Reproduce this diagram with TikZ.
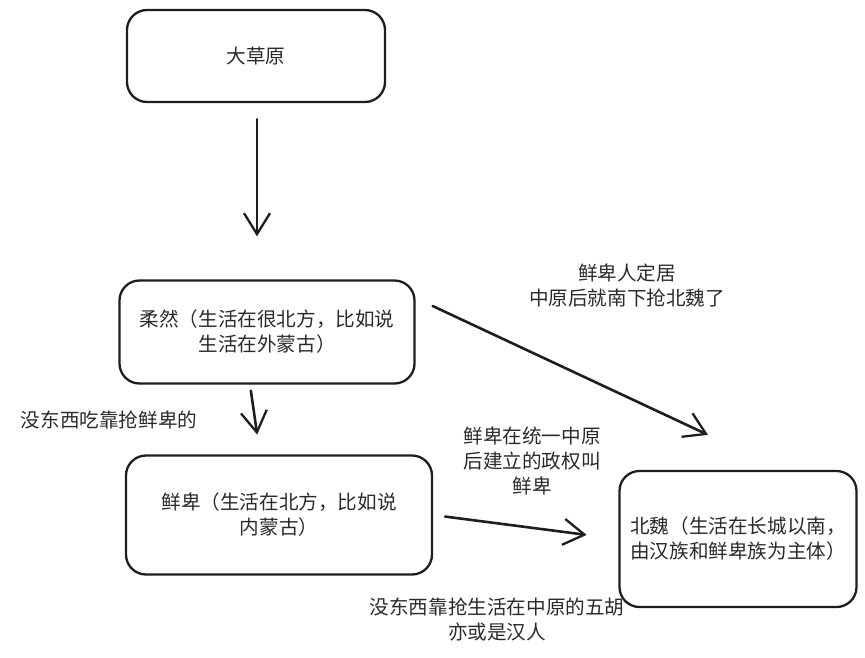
\documentclass[tikz,border=0pt]{standalone}
\usepackage{fontspec}
\newfontfamily\cjk{Noto Sans CJK SC}
\usetikzlibrary{arrows.meta,positioning}
\definecolor{cink}{HTML}{1e1e1e}
\definecolor{ctext}{HTML}{2a2a2a}

\begin{document}
\begin{tikzpicture}[x=1pt, y=-1pt, font=\cjk\fontsize{19.6}{25}\selectfont,
    line cap=round, line join=round,
    box/.style={draw=cink, line width=2.3pt, rounded corners=20pt,
      align=center, inner sep=0pt, text=ctext},
    arr/.style={draw=cink, line width=2.6pt,
      -{Straight Barb[length=21pt,width=26pt,line width=2.3pt]}},
    note/.style={text=ctext, align=center, inner sep=0pt}]
  \useasboundingbox (0,0) rectangle (865,657);
  % boxes
  \node[box, minimum width=258pt, minimum height=92pt]  (dcy) at (256,56)  {大草原};
  \node[box, minimum width=295pt, minimum height=103pt] (rr)  at (267,332) {柔然（生活在很北方，比如说\\生活在外蒙古）};
  \node[box, minimum width=306pt, minimum height=119pt] (xb)  at (279,515) {鲜卑（生活在北方，比如说\\内蒙古）};
  \node[box, minimum width=237pt, minimum height=136pt] (bw)  at (738,539) {北魏（生活在长城以南，\\由汉族和鲜卑族为主体）};
  % arrows
  \draw[arr, shorten <=16pt, shorten >=43pt] ([xshift=1pt]dcy.south) -- ([xshift=1pt]dcy.south |- rr.north);
  \draw[arr, shorten <=6pt, shorten >=20pt] ([xshift=-17pt]rr.south) -- ([xshift=-19pt]xb.north);
  \draw[arr] ([xshift=17pt,yshift=26pt]rr.east) -- ([xshift=-30pt,yshift=35pt]bw.north);
  \draw[arr, shorten <=12pt, shorten >=32pt] (xb.east) -- (bw.west);
  % notes
  \node[note] (n1) at (109,420) {没东西吃靠抢鲜卑的};
  \node[note] (n2) at (627,285) {鲜卑人定居\\中原后就南下抢北魏了};
  \node[note] (n3) at (532,461) {鲜卑在统一中原\\后建立的政权叫\\鲜卑};
  \node[note] (n4) at (497,620) {没东西靠抢生活在中原的五胡\\亦或是汉人};
\end{tikzpicture}
\end{document}
